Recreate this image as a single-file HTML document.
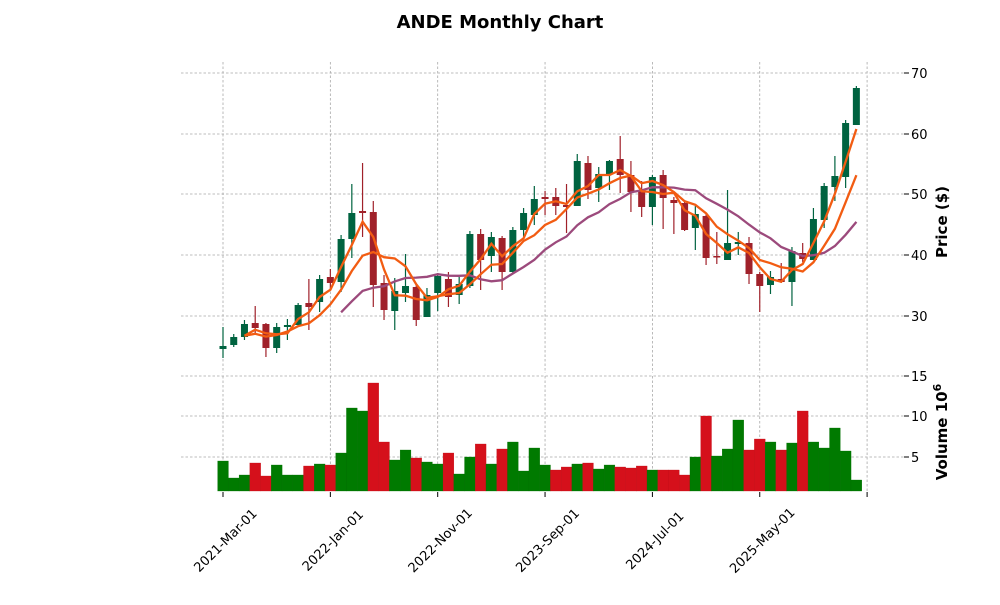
<!DOCTYPE html>
<html><head><meta charset="utf-8"><style>
body{margin:0;background:#fff;font-family:"Liberation Sans",sans-serif}
svg text{font-family:"DejaVu Sans","Liberation Sans",sans-serif}
</style></head><body>
<svg id="s" width="1000" height="600" xmlns="http://www.w3.org/2000/svg"></svg>
<script>
const C=[
['g',346,349,327,358],['g',337,345,334,347],['g',324,337,320,340],['r',323,328,306,335],['r',324,348,323,357],
['g',327,348,323,353],['g',325,327,319,340],['g',305,325,303,327],['r',303,307,279,330],['g',279,302,275,312],
['r',277,283,269,290],['g',239,282,235,292],['g',213,239,184,258],['r',211,213,163,237],['r',212,285,201,307],
['r',283,310,275,320],['g',291,311,278,330],['g',286,293,254,302],['r',287,320,284,326],['g',295,317,288,317],
['g',276,293,273,311],['r',279,297,272,307],['g',284,295,277,304],['g',234,286,231,288],['r',234,260,229,290],
['g',237,256,232,272],['r',238,272,236,290],['g',230,272,227,273],['g',213,230,208,237],['g',199,215,186,225],
['r',197,199,191,215],['r',197,206,188,215],['r',205,207,184,233],['g',161,206,154,206],['r',163,190,156,199],
['g',174,188,167,202],['g',161,174,160,190],['r',159,175,136,193],['r',175,192,161,212],['r',191,207,181,217],
['g',177,207,175,225],['r',175,198,170,229],['r',200,203,197,234],['r',203,230,200,231],['g',214,228,206,250],
['r',216,258,214,265],['r',256,257,232,264],['g',243,260,190,260],['g',242,244,232,255],['r',243,274,237,284],
['r',274,286,272,312],['g',277,285,271,294],['r',279,282,263,283],['g',251,282,247,306],['r',253,259,243,262],
['g',219,260,208,260],['g',186,220,183,228],['g',176,187,156,201],['g',123,177,120,188],['g',88,125,86,125]];
const V=[['g',461],['g',478],['g',475],['r',463],['r',476],['g',465],['g',475],['g',475],['r',466],['g',464],
['r',465],['g',453],['g',408],['g',411],['r',383],['r',442],['g',460],['g',450],['r',458],['g',462],
['g',464],['r',453],['g',474],['g',457],['r',444],['g',464],['r',449],['g',442],['g',471],['g',448],
['g',465],['r',470],['r',467],['g',464],['r',463],['g',469],['g',465],['r',467],['r',468],['r',466],
['g',470],['r',470],['r',470],['r',475],['g',457],['r',416],['g',456],['g',449],['g',420],['r',450],
['r',439],['g',442],['r',450],['g',443],['r',411],['g',442],['g',448],['g',428],['g',451],['g',480]];
const X=i=>223+i*10.735;
let h='';
const grid='stroke="#a8a8a8" stroke-width="0.8" stroke-dasharray="2.5,2"';
[73,134,194,255,316].forEach(y=>h+=`<line x1="181" x2="904" y1="${y}" y2="${y}" ${grid}/>`);
[376,416,457].forEach(y=>h+=`<line x1="181" x2="904" y1="${y}" y2="${y}" ${grid}/>`);
[0,1,2,3,4,5,6].forEach(k=>{const x=223+k*107.35;h+=`<line x1="${x}" x2="${x}" y1="62" y2="373" ${grid}/><line x1="${x}" x2="${x}" y1="376" y2="491" ${grid}/><line x1="${x}" x2="${x}" y1="492" y2="497" stroke="#000" stroke-width="1"/>`});
V.forEach((v,i)=>{const x=X(i)-5.37;h+=`<rect x="${x}" y="${v[1]}" width="10.8" height="${491-v[1]}" fill="${v[0]=='g'?'#007a00':'#d5101b'}" stroke="${v[0]=='g'?'#006e00':'#c00f18'}" stroke-width="0.3"/>`});
C.forEach((c,i)=>{const x=X(i),col=c[0]=='g'?'#006340':'#a0212a';
h+=`<line x1="${x}" x2="${x}" y1="${c[3]}" y2="${c[4]}" stroke="${col}" stroke-width="1.2"/>`;
h+=`<rect x="${x-3.5}" y="${c[1]}" width="7" height="${Math.max(1.5,c[2]-c[1])}" fill="${col}"/>`});
const cl=C.map(c=>c[0]=='g'?c[1]:c[2]);
function ma(n,start){let p=[];for(let i=start;i<cl.length;i++){let a=Math.max(0,i-n+1),s=0;for(let j=a;j<=i;j++)s+=cl[j];p.push(X(i).toFixed(1)+','+(s/(i-a+1)).toFixed(1))}return p.join(' ')}
h+=`<polyline points="${ma(12,11)}" fill="none" stroke="#9c4a7c" stroke-width="2.3"/>`;
h+=`<polyline points="${ma(6,2)}" fill="none" stroke="#f25c12" stroke-width="2.3"/>`;
h+=`<polyline points="${ma(3,2)}" fill="none" stroke="#f25c12" stroke-width="2.3"/>`;
[[73,70],[134,60],[194,50],[255,40],[316,30]].forEach(t=>h+=`<line x1="904" x2="909" y1="${t[0]}" y2="${t[0]}" stroke="#000"/><text x="911" y="${t[0]+5}" font-size="13">${t[1]}</text>`);
[[376,15],[416,10],[457,5]].forEach(t=>h+=`<line x1="904" x2="909" y1="${t[0]}" y2="${t[0]}" stroke="#000"/><text x="911" y="${t[0]+5}" font-size="13">${t[1]}</text>`);
['2021-Mar-01','2022-Jan-01','2022-Nov-01','2023-Sep-01','2024-Jul-01','2025-May-01'].forEach((l,k)=>{const x=223+k*107.35;h+=`<text transform="translate(${x+2},540) rotate(-45)" text-anchor="middle" dy="5" font-size="13">${l}</text>`});
h+=`<text x="500" y="28" text-anchor="middle" font-size="18" font-weight="bold">ANDE Monthly Chart</text>`;
h+=`<text transform="translate(947,222) rotate(-90)" text-anchor="middle" font-size="15" font-weight="bold">Price ($)</text>`;
h+=`<text transform="translate(947,432) rotate(-90)" text-anchor="middle" font-size="15" font-weight="bold">Volume  10<tspan font-size="11" dy="-6">6</tspan></text>`;
document.getElementById('s').innerHTML=h;
</script>
</body></html>
